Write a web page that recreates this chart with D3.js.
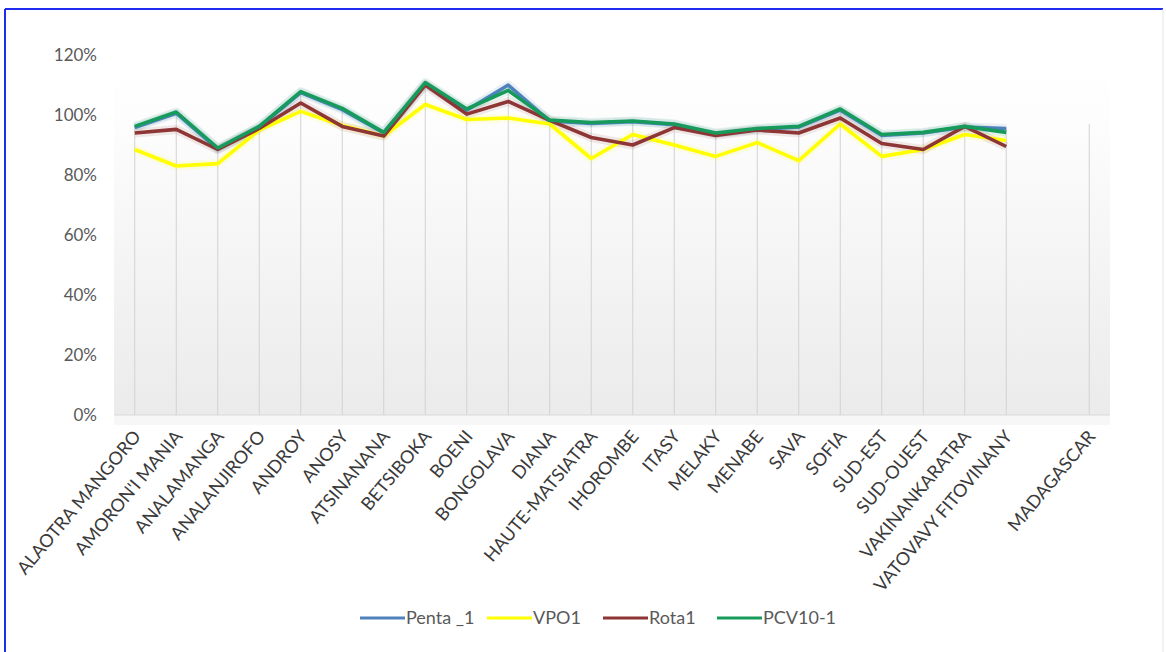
<!DOCTYPE html>
<html>
<head>
<meta charset="utf-8">
<script src="https://cdn.jsdelivr.net/npm/d3@7"></script>
<style>
  body { margin: 0; background: #fff; }
  text { font-family: Lato, "Noto Sans", sans-serif; }
</style>
</head>
<body>
<div id="chart"></div>
<script>
// Data
const categories = [
  'ALAOTRA MANGORO', "AMORON'I MANIA", 'ANALAMANGA', 'ANALANJIROFO', 'ANDROY', 'ANOSY',
  'ATSINANANA', 'BETSIBOKA', 'BOENI', 'BONGOLAVA', 'DIANA', 'HAUTE-MATSIATRA',
  'IHOROMBE', 'ITASY', 'MELAKY', 'MENABE', 'SAVA', 'SOFIA', 'SUD-EST', 'SUD-OUEST',
  'VAKINANKARATRA', 'VATOVAVY FITOVINANY', '', 'MADAGASCAR'
];
const penta1 = [0.958, 1.006, 0.886, 0.960, 1.075, 1.018, 0.940, 1.104, 1.016, 1.100, 0.980, 0.972,
  0.978, 0.968, 0.937, 0.952, 0.960, 1.016, 0.932, 0.940, 0.960, 0.955, null, 0.962];
const vpo1 = [0.885, 0.830, 0.838, 0.950, 1.012, 0.965, 0.930, 1.035, 0.985, 0.990, 0.970, 0.855,
  0.935, 0.900, 0.862, 0.908, 0.848, 0.970, 0.862, 0.885, 0.935, 0.915, null, 0.915];
const rota1 = [0.940, 0.952, 0.885, 0.955, 1.040, 0.962, 0.930, 1.100, 1.003, 1.045, 0.982, 0.925,
  0.900, 0.958, 0.932, 0.950, 0.940, 0.990, 0.905, 0.885, 0.962, 0.895, null, 0.945];
const pcv10 = [0.962, 1.010, 0.890, 0.962, 1.078, 1.022, 0.942, 1.108, 1.020, 1.082, 0.983, 0.975,
  0.980, 0.970, 0.940, 0.955, 0.962, 1.020, 0.935, 0.942, 0.962, 0.942, null, 0.970];
const yTicks = [0, 0.2, 0.4, 0.6, 0.8, 1.0, 1.2];

const series = [
  { name: 'Penta _1', values: penta1, color: '#4f81bd' },
  { name: 'VPO1', values: vpo1, color: '#ffff00' },
  { name: 'Rota1', values: rota1, color: '#8e3535' },
  { name: 'PCV10-1', values: pcv10, color: '#169b5c' }
];

// Layout
const W = 1166, H = 652;
const plot = { left: 114, right: 1110, top: 55, bottom: 415 };

const svg = d3.select('#chart')
  .append('svg')
  .attr('width', W)
  .attr('height', H);

// Frame
svg.append('rect')
  .attr('x', 0).attr('y', 0).attr('width', W).attr('height', H)
  .attr('fill', '#fff');
svg.append('line')
  .attr('x1', 5).attr('x2', 1163).attr('y1', 9).attr('y2', 9)
  .attr('stroke', '#1f2cf0').attr('stroke-width', 2);
svg.append('line')
  .attr('x1', 5).attr('x2', 5).attr('y1', 9).attr('y2', H)
  .attr('stroke', '#1f2cf0').attr('stroke-width', 2);
svg.append('line')
  .attr('x1', 1163).attr('x2', 1163).attr('y1', 9).attr('y2', H)
  .attr('stroke', '#e4e4e4').attr('stroke-width', 1);

// Scales
const xScale = d3.scalePoint()
  .domain(categories.map((c, i) => i))
  .range([plot.left, plot.right])
  .padding(0.5);
const yScale = d3.scaleLinear()
  .domain([0, 1.2])
  .range([plot.bottom, plot.top]);

// Plot area gradient
const defs = svg.append('defs');
const grad = defs.append('linearGradient')
  .attr('id', 'bg').attr('x1', 0).attr('y1', 0).attr('x2', 0).attr('y2', 1);
grad.append('stop').attr('offset', '0%').attr('stop-color', '#ffffff');
grad.append('stop').attr('offset', '18%').attr('stop-color', '#fdfdfd');
grad.append('stop').attr('offset', '100%').attr('stop-color', '#ebebeb');

svg.append('rect')
  .attr('x', plot.left)
  .attr('y', yScale(1.2))
  .attr('width', plot.right - plot.left)
  .attr('height', yScale(0) - yScale(1.2))
  .attr('fill', 'url(#bg)');

// faint band under the axis
svg.append('rect')
  .attr('x', plot.left)
  .attr('y', plot.bottom)
  .attr('width', plot.right - plot.left)
  .attr('height', 10)
  .attr('fill', '#f7f7f7');

// Drop lines (from highest point of each category down to the axis)
const maxes = categories.map((c, i) => d3.max(series, s => s.values[i]));
svg.append('g')
  .selectAll('line')
  .data(categories.map((c, i) => i).filter(i => maxes[i] != null))
  .join('line')
  .attr('x1', i => xScale(i))
  .attr('x2', i => xScale(i))
  .attr('y1', i => yScale(maxes[i]))
  .attr('y2', yScale(0))
  .attr('stroke', '#d2d2d2')
  .attr('stroke-width', 1);

// X axis line
svg.append('line')
  .attr('x1', plot.left).attr('x2', plot.right)
  .attr('y1', yScale(0)).attr('y2', yScale(0))
  .attr('stroke', '#d9d9d9');

// Y axis labels
const yAxis = d3.axisLeft(yScale)
  .tickValues(yTicks)
  .tickFormat(d3.format('.0%'))
  .tickSize(0)
  .tickPadding(0);
const yG = svg.append('g')
  .attr('transform', 'translate(97,0)')
  .call(yAxis);
yG.select('.domain').remove();
yG.selectAll('text')
  .attr('font-family', 'Lato, sans-serif')
  .attr('font-size', 17)
  .attr('fill', '#595959');

// X labels
svg.append('g')
  .selectAll('text')
  .data(categories.map((c, i) => i))
  .join('text')
  .attr('transform', i => `translate(${xScale(i) + 7},${yScale(0) + 22}) rotate(-50)`)
  .attr('text-anchor', 'end')
  .attr('font-size', 18)
  .attr('fill', '#3a3a3a')
  .text(i => categories[i]);

// Lines
const line = d3.line()
  .defined(d => d != null)
  .x((d, i) => xScale(i))
  .y(d => yScale(d));

const lines = svg.append('g');
series.forEach(s => {
  lines.append('path')
    .attr('d', line(s.values))
    .attr('fill', 'none')
    .attr('stroke', s.color)
    .attr('stroke-opacity', 0.1)
    .attr('stroke-width', 9)
    .attr('stroke-linejoin', 'round');
});
series.forEach(s => {
  lines.append('path')
    .attr('d', line(s.values))
    .attr('fill', 'none')
    .attr('stroke', s.color)
    .attr('stroke-width', 3.6)
    .attr('stroke-linejoin', 'round');
});

// Legend
const legendX = [360, 487, 603, 717];
const legend = svg.append('g');
series.forEach((s, i) => {
  legend.append('line')
    .attr('x1', legendX[i]).attr('x2', legendX[i] + 45)
    .attr('y1', 618).attr('y2', 618)
    .attr('stroke', s.color)
    .attr('stroke-width', 3);
  legend.append('text')
    .attr('x', legendX[i] + 46)
    .attr('y', 624)
    .attr('font-size', 18)
    .attr('fill', '#595959')
    .text(s.name);
});
</script>
</body>
</html>
